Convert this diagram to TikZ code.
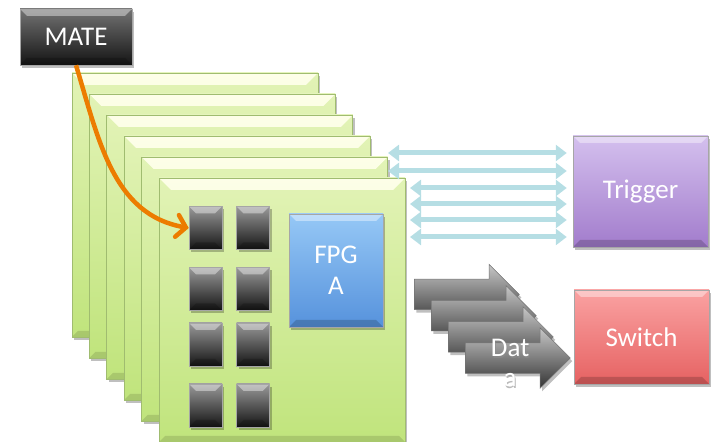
\documentclass[tikz,border=0pt]{standalone}
\usepackage{fontspec}
\setmainfont{Carlito}
\usetikzlibrary{shapes.arrows,arrows.meta,shadows}

\definecolor{boardgreen}{RGB}{192,228,124}
\definecolor{boardlight}{RGB}{226,243,182}
\definecolor{boardtop}{RGB}{253,254,232}
\definecolor{boardline}{RGB}{160,188,112}
\definecolor{fpgatop}{RGB}{150,200,246}
\definecolor{fpgabot}{RGB}{86,146,220}
\definecolor{trigtop}{RGB}{212,192,238}
\definecolor{trigbot}{RGB}{162,124,204}
\definecolor{switchtop}{RGB}{250,162,162}
\definecolor{switchbot}{RGB}{230,98,98}
\definecolor{linkblue}{RGB}{182,222,228}
\definecolor{mateorange}{RGB}{236,124,0}

\tikzset{
  bevel/.style={path picture={
    \fill[white,opacity=.4] (path picture bounding box.north west) --
      (path picture bounding box.north east) --
      ([shift={(-7pt,-7pt)}]path picture bounding box.north east) --
      ([shift={(7pt,-7pt)}]path picture bounding box.north west) -- cycle;
    \fill[black,opacity=.18] (path picture bounding box.south west) --
      (path picture bounding box.south east) --
      ([shift={(-7pt,7pt)}]path picture bounding box.south east) --
      ([shift={(7pt,7pt)}]path picture bounding box.south west) -- cycle;
  }},
  softshadow/.style={drop shadow={shadow xshift=2pt,shadow yshift=-3pt,
    opacity=.25,fill=black}},
  block/.style={draw=black!35,line width=.5pt,inner sep=0pt,text=white,
    align=center,font=\fontsize{27}{31}\selectfont,softshadow,bevel},
  board/.style={top color=boardlight,bottom color=boardgreen,draw=boardline,
    line width=.8pt,minimum width=246pt,minimum height=264pt,inner sep=0pt,
    softshadow,
    path picture={
      \shade[top color=boardtop,bottom color=boardlight]
        (path picture bounding box.north west) --
        (path picture bounding box.north east) --
        ([shift={(-12pt,-12pt)}]path picture bounding box.north east) --
        ([shift={(12pt,-12pt)}]path picture bounding box.north west) -- cycle;
      \fill[black,opacity=.12] (path picture bounding box.south west) --
        (path picture bounding box.south east) --
        ([shift={(-6pt,6pt)}]path picture bounding box.south east) --
        ([shift={(6pt,6pt)}]path picture bounding box.south west) -- cycle;
    }},
  chip/.style={block,top color=black!40,bottom color=black!92,
    minimum width=33pt,minimum height=43pt},
  dataarrow/.style={single arrow,single arrow head extend=15pt,anchor=tail,
    minimum height=105pt,inner xsep=0pt,inner ysep=15pt,
    draw=black!55,line width=.5pt,top color=black!22,middle color=black!50,
    bottom color=black!80,softshadow},
  datalabel/.style={align=center,font=\fontsize{27}{30}\selectfont},
  link/.style={draw=linkblue,line width=5pt,
    {Triangle[width=16pt,length=11pt]}-{Triangle[width=16pt,length=11pt]},
    shorten >=6pt},
  matelink/.style={draw=mateorange,line width=4.5pt,
    -{Straight Barb[length=9pt,width=22pt,line cap=round]}},
}

\begin{document}
\begin{tikzpicture}[x=1pt,y=1pt]
\useasboundingbox (0,0) rectangle (713,442);

% stack of boards, front one last
\foreach \i in {0,...,5}
  \node[board] (b\i) at ({195+17.4*\i},{237-21*\i}) {};

% chips on the front board
\foreach \y [count=\r] in {214,153,97.5,36.5}
  \foreach \x [count=\c] in {205.5,253}
    \node[chip] (c\r\c) at (\x,\y) {};

\node[block,top color=fpgatop,bottom color=fpgabot,
  minimum width=94pt,minimum height=113pt] (fpga) at (336,171.5) {FPG\\A};

\node[block,top color=black!55,bottom color=black!92,
  minimum width=112pt,minimum height=56pt] (mate) at (76,405) {MATE};
\node[block,top color=trigtop,bottom color=trigbot,
  minimum width=135pt,minimum height=111pt] (trig) at (640.5,250.5) {Trigger};
\node[block,top color=switchtop,bottom color=switchbot,
  minimum width=135pt,minimum height=94pt] (switch) at (641.5,105) {Switch};

% links to the trigger
\foreach \xx/\yy [count=\i] in {388/289,388/271,410/254,410/238,410/222,410/205} {
  \coordinate (l\i) at (\xx,\yy);
  \draw[link] (l\i) -- (trig.west |- l\i);
}

% data going out
\foreach \i in {0,...,3}
  \node[dataarrow] (d\i) at ({414+17*\i},{147.5-21.2*\i}) {};
\node[datalabel,text=black!45,opacity=.6] (datashade)
  at ([shift={(1pt,-6.5pt)}]d3.center) {Dat\\a};
\node[datalabel,text=white] (datatext) at ([yshift=-5pt]d3.center) {Dat\\a};

\draw[matelink] (mate.south) to[out=-73,in=170] (c11.west);
\end{tikzpicture}
\end{document}
